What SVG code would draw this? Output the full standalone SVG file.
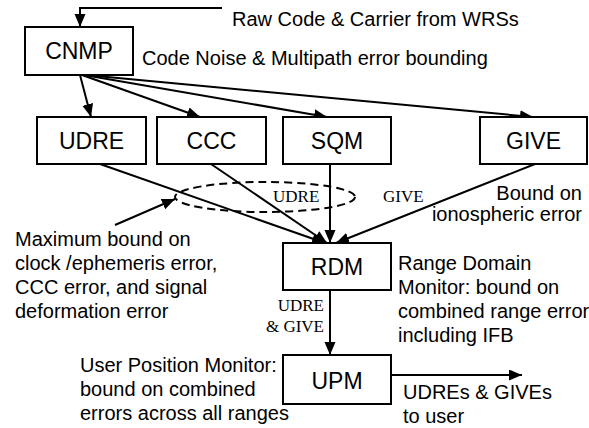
<svg xmlns="http://www.w3.org/2000/svg" width="589" height="428" viewBox="0 0 589 428">
<style>
.box{fill:#fff;stroke:#000;stroke-width:2}
.lbl{font-family:"Liberation Sans",Arial,sans-serif;font-size:23px;fill:#000;text-anchor:middle}
.t{font-family:"Liberation Sans",Arial,sans-serif;font-size:20px;fill:#000}
.s{font-family:"Liberation Serif","Times New Roman",serif;font-size:17px;fill:#000}
.c{fill:none;stroke:#000;stroke-width:2}
</style>
<defs>
<marker id="ah" markerUnits="userSpaceOnUse" markerWidth="14" markerHeight="12" refX="13" refY="5.5" orient="auto">
<path d="M0,0 L13,5.5 L0,11 z" fill="#000"/>
</marker>
</defs>
<rect width="589" height="428" fill="#fff"/>
<g id="connectors">
<polyline class="c" points="222,8 80,8 80,27" marker-end="url(#ah)"/>
<line class="c" x1="80" y1="75" x2="91" y2="117" marker-end="url(#ah)"/>
<line class="c" x1="82" y1="75" x2="200" y2="117" marker-end="url(#ah)"/>
<line class="c" x1="84" y1="75" x2="327" y2="117" marker-end="url(#ah)"/>
<line class="c" x1="86" y1="75" x2="533" y2="117" marker-end="url(#ah)"/>
<line class="c" x1="100" y1="164" x2="325" y2="243" marker-end="url(#ah)"/>
<line class="c" x1="211" y1="164" x2="327" y2="243" marker-end="url(#ah)"/>
<line class="c" x1="330" y1="164" x2="330" y2="243" marker-end="url(#ah)"/>
<line class="c" x1="535" y1="164" x2="336" y2="243" marker-end="url(#ah)"/>
<line class="c" x1="115" y1="225" x2="175" y2="199" marker-end="url(#ah)"/>
<line class="c" x1="330" y1="290" x2="330" y2="355" marker-end="url(#ah)"/>
<line class="c" x1="391" y1="375" x2="522" y2="375" marker-end="url(#ah)"/>
<ellipse cx="265" cy="197" rx="90" ry="15" fill="none" stroke="#000" stroke-width="2" stroke-dasharray="8,5"/>
<text class="s" x="273" y="202">UDRE</text>
<text class="s" x="383" y="202">GIVE</text>
<text class="s" x="324" y="311" text-anchor="end">UDRE</text>
<text class="s" x="324" y="332" text-anchor="end">&amp; GIVE</text>
</g>
<g id="CNMP">
<rect class="box" x="25" y="27" width="108" height="48"/>
<text class="lbl" x="79" y="59">CNMP</text>
</g>
<g id="UDRE">
<rect class="box" x="37" y="117" width="109" height="47"/>
<text class="lbl" x="91.5" y="149">UDRE</text>
</g>
<g id="CCC">
<rect class="box" x="157" y="117" width="109" height="47"/>
<text class="lbl" x="211.5" y="149">CCC</text>
</g>
<g id="SQM">
<rect class="box" x="283" y="117" width="108" height="47"/>
<text class="lbl" x="337" y="149">SQM</text>
</g>
<g id="GIVE">
<rect class="box" x="480" y="117" width="107" height="47"/>
<text class="lbl" x="533.5" y="149">GIVE</text>
</g>
<g id="RDM">
<rect class="box" x="283" y="243" width="108" height="47"/>
<text class="lbl" x="337" y="275">RDM</text>
</g>
<g id="UPM">
<rect class="box" x="283" y="355" width="108" height="49"/>
<text class="lbl" x="337" y="389">UPM</text>
</g>
<g id="annotations">
<text class="t" x="232" y="26">Raw Code &amp; Carrier from WRSs</text>
<text class="t" x="142" y="65">Code Noise &amp; Multipath error bounding</text>
<text class="t" x="582" y="200" text-anchor="end">Bound on</text>
<text class="t" x="582" y="221" text-anchor="end">ionospheric error</text>
<text class="t" x="15" y="246">Maximum bound on</text>
<text class="t" x="15" y="270">clock /ephemeris error,</text>
<text class="t" x="15" y="294">CCC error, and signal</text>
<text class="t" x="15" y="318">deformation error</text>
<text class="t" x="398" y="270">Range Domain</text>
<text class="t" x="398" y="294">Monitor: bound on</text>
<text class="t" x="398" y="318">combined range error</text>
<text class="t" x="398" y="342">including IFB</text>
<text class="t" x="80" y="372">User Position Monitor:</text>
<text class="t" x="80" y="396">bound on combined</text>
<text class="t" x="80" y="420">errors across all ranges</text>
<text class="t" x="403" y="399">UDREs &amp; GIVEs</text>
<text class="t" x="403" y="423">to user</text>
</g>
</svg>
